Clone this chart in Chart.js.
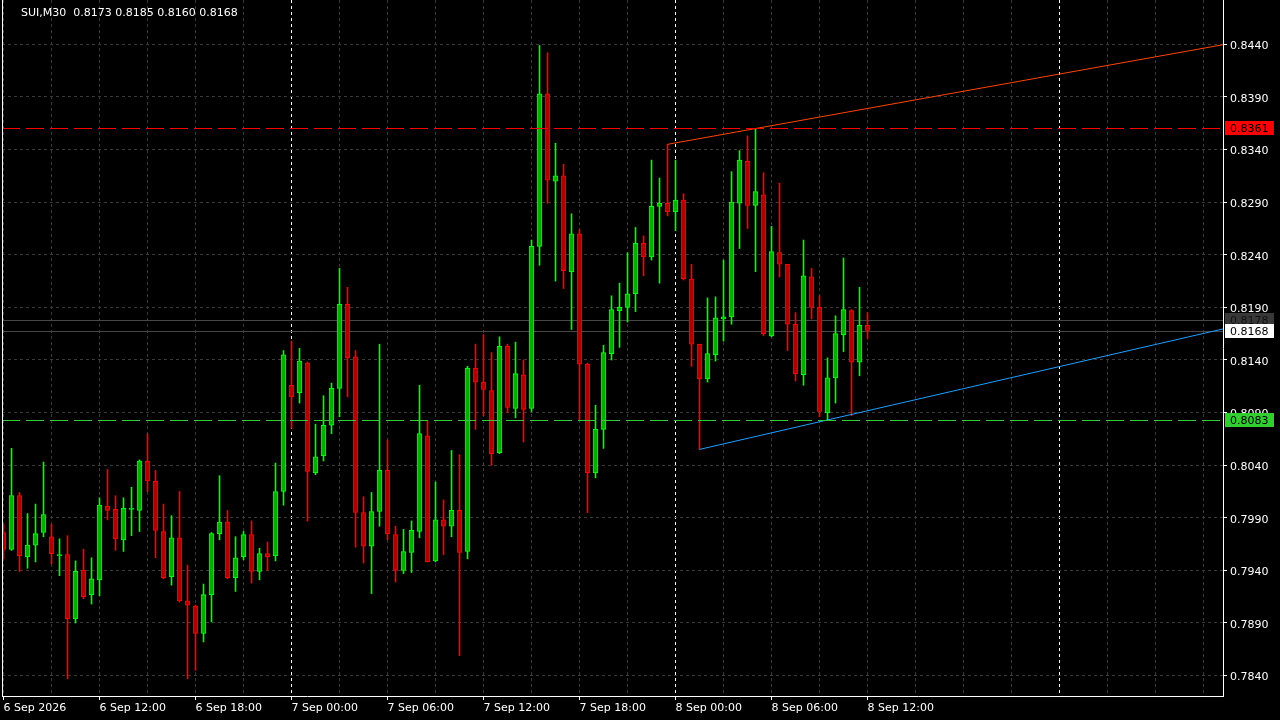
<!DOCTYPE html>
<html>
<head>
<meta charset="utf-8">
<title>SUI,M30</title>
<script src="https://cdn.jsdelivr.net/npm/chart.js@4.4.1/dist/chart.umd.min.js"></script>
<style>
  html, body { margin: 0; padding: 0; background: #000; overflow: hidden; }
  canvas { display: block; background: #000; }
</style>
</head>
<body>
<canvas id="grafico" width="1280" height="720"></canvas>
<script>
// SUI, 30 minute bars, 6 Sep 06:00 .. 8 Sep 12:00
const symbol = 'SUI,M30';

const open = [
  0.7976, 0.7960, 0.8011, 0.7953, 0.7964, 0.7976, 0.7972, 0.7954, 0.7955, 0.7894,
  0.7940, 0.7917, 0.7931, 0.8001, 0.7998, 0.7969, 0.7998, 0.7997, 0.8044, 0.8025,
  0.7977, 0.7934, 0.7971, 0.7911, 0.7906, 0.7880, 0.7917, 0.7975, 0.7986, 0.7933,
  0.7953, 0.7974, 0.7939, 0.7956, 0.7954, 0.8015, 0.8116, 0.8109, 0.8137, 0.8033,
  0.8049, 0.8078, 0.8113, 0.8193, 0.8143, 0.7995, 0.7963, 0.7996, 0.8035, 0.7974,
  0.7940, 0.7957, 0.7977, 0.8068, 0.7949, 0.7988, 0.7982, 0.7997, 0.7958, 0.8132,
  0.8119, 0.8111, 0.8052, 0.8153, 0.8094, 0.8126, 0.8094, 0.8248, 0.8393, 0.8310,
  0.8315, 0.8224, 0.8260, 0.8136, 0.8033, 0.8074, 0.8146, 0.8187, 0.8190, 0.8203,
  0.8251, 0.8238, 0.8286, 0.8289, 0.8281, 0.8292, 0.8217, 0.8155, 0.8122, 0.8145,
  0.8179, 0.8181, 0.8289, 0.8329, 0.8287, 0.8297, 0.8163, 0.8242, 0.8231, 0.8174,
  0.8126, 0.8219, 0.8190, 0.8090, 0.8123, 0.8164, 0.8187, 0.8138, 0.8173
];
const high = [
  0.7984, 0.8056, 0.8014, 0.7994, 0.8003, 0.8043, 0.7984, 0.7970, 0.7973, 0.7949,
  0.7960, 0.7952, 0.8009, 0.8036, 0.8011, 0.8009, 0.8019, 0.8045, 0.8070, 0.8035,
  0.8003, 0.7992, 0.8015, 0.7945, 0.7907, 0.7927, 0.7976, 0.8030, 0.7997, 0.7972,
  0.7977, 0.7987, 0.7961, 0.7967, 0.8042, 0.8149, 0.8158, 0.8151, 0.8138, 0.8079,
  0.8106, 0.8118, 0.8227, 0.8209, 0.8149, 0.8010, 0.8014, 0.8155, 0.8064, 0.7982,
  0.7979, 0.7987, 0.8116, 0.8082, 0.8024, 0.8007, 0.8054, 0.8050, 0.8134, 0.8155,
  0.8164, 0.8147, 0.8162, 0.8155, 0.8157, 0.8140, 0.8254, 0.8439, 0.8432, 0.8346,
  0.8326, 0.8279, 0.8264, 0.8137, 0.8097, 0.8154, 0.8201, 0.8213, 0.8242, 0.8266,
  0.8258, 0.8330, 0.8313, 0.8345, 0.8330, 0.8298, 0.8231, 0.8155, 0.8199, 0.8200,
  0.8235, 0.8319, 0.8339, 0.8353, 0.8360, 0.8318, 0.8267, 0.8308, 0.8231, 0.8185,
  0.8254, 0.8227, 0.8201, 0.8142, 0.8182, 0.8237, 0.8188, 0.8209, 0.8185
];
const low = [
  0.7951, 0.7959, 0.7939, 0.7942, 0.7948, 0.7972, 0.7946, 0.7935, 0.7837, 0.7890,
  0.7913, 0.7908, 0.7916, 0.7988, 0.7959, 0.7958, 0.7973, 0.7977, 0.8015, 0.7952,
  0.7932, 0.7926, 0.7910, 0.7837, 0.7845, 0.7872, 0.7891, 0.7969, 0.7932, 0.7920,
  0.7950, 0.7928, 0.7931, 0.7940, 0.7949, 0.8002, 0.8075, 0.8099, 0.7987, 0.8031,
  0.8044, 0.8070, 0.8086, 0.8105, 0.7962, 0.7947, 0.7918, 0.7982, 0.7969, 0.7929,
  0.7937, 0.7938, 0.7971, 0.7948, 0.7948, 0.7955, 0.7972, 0.7859, 0.7951, 0.8074,
  0.8087, 0.8040, 0.8051, 0.8090, 0.8085, 0.8062, 0.8091, 0.8230, 0.8289, 0.8215,
  0.8208, 0.8169, 0.8083, 0.7995, 0.8028, 0.8056, 0.8140, 0.8152, 0.8176, 0.8186,
  0.8220, 0.8235, 0.8213, 0.8277, 0.8263, 0.8216, 0.8134, 0.8055, 0.8119, 0.8139,
  0.8158, 0.8174, 0.8246, 0.8265, 0.8224, 0.8163, 0.8162, 0.8219, 0.8149, 0.8120,
  0.8116, 0.8179, 0.8086, 0.8083, 0.8099, 0.8148, 0.8087, 0.8125, 0.8160
];
const close = [
  0.7960, 0.8011, 0.7954, 0.7964, 0.7975, 0.7993, 0.7956, 0.7955, 0.7894, 0.7939,
  0.7915, 0.7932, 0.8002, 0.7997, 0.7970, 0.7999, 0.7999, 0.8044, 0.8025, 0.7978,
  0.7933, 0.7971, 0.7911, 0.7907, 0.7880, 0.7917, 0.7975, 0.7986, 0.7933, 0.7952,
  0.7974, 0.7939, 0.7956, 0.7953, 0.8015, 0.8145, 0.8105, 0.8139, 0.8034, 0.8048,
  0.8078, 0.8113, 0.8193, 0.8142, 0.7995, 0.7963, 0.7996, 0.8035, 0.7975, 0.7940,
  0.7958, 0.7978, 0.8070, 0.7948, 0.7988, 0.7982, 0.7997, 0.7957, 0.8132, 0.8119,
  0.8112, 0.8051, 0.8153, 0.8095, 0.8127, 0.8093, 0.8248, 0.8393, 0.8311, 0.8315,
  0.8225, 0.8260, 0.8136, 0.8033, 0.8074, 0.8147, 0.8188, 0.8190, 0.8203, 0.8251,
  0.8238, 0.8286, 0.8289, 0.8281, 0.8292, 0.8217, 0.8155, 0.8122, 0.8146, 0.8180,
  0.8181, 0.8290, 0.8330, 0.8287, 0.8300, 0.8165, 0.8243, 0.8231, 0.8174, 0.8127,
  0.8220, 0.8190, 0.8091, 0.8123, 0.8165, 0.8188, 0.8138, 0.8173, 0.8168
];

// time axis labels (bar index -> text)
const labelIdx = [0, 12, 24, 36, 48, 60, 72, 84, 96, 108];
const timeLabels = ['6 Sep 2026', '6 Sep 12:00', '6 Sep 18:00', '7 Sep 00:00', '7 Sep 06:00',
                    '7 Sep 12:00', '7 Sep 18:00', '8 Sep 00:00', '8 Sep 06:00', '8 Sep 12:00'];
const daySeparators = [36, 84, 132];
const yTicks = [0.8440, 0.8390, 0.8340, 0.8290, 0.8240, 0.8190, 0.8140, 0.8090, 0.8040, 0.7990, 0.7940, 0.7890, 0.7840];

// horizontal levels, bid/ask, trend lines (bar index, price)
const levelHigh = 0.8361;
const levelLow = 0.8083;
const bidPrice = 0.8168;
const askPrice = 0.8178;
const trendTop = [[83, 0.8345], [94, 0.8360]];
const trendBottom = [[87, 0.8055], [103, 0.8083]];

document.addEventListener('DOMContentLoaded', () => {
    const xMin = -0.1875, xMax = 152.4375;
    const yMin = 0.78206, yMax = 0.84822;
    const idx = open.map((_, i) => i);
    const up = idx.map(i => close[i] >= open[i]);
    const last = open.length - 1;
    const titulo = symbol + '  ' + [open[last], high[last], low[last], close[last]].map(v => v.toFixed(4)).join(' ');

    function raio(p, q) {
        const k = (q[1] - p[1]) / (q[0] - p[0]);
        return [{x: p[0], y: p[1]}, {x: xMax, y: p[1] + k * (xMax - p[0])}];
    }
    const linha = (data, color, order) => ({
        type: 'line', data, borderColor: color, borderWidth: 1,
        pointRadius: 0, fill: false, tension: 0, order
    });

    // crisp horizontal line at a price
    function nivel(chart, v, color, dash) {
        const {ctx, chartArea: a, scales: {y}} = chart;
        const py = Math.round(y.getPixelForValue(v)) + 0.5;
        ctx.save();
        ctx.strokeStyle = color;
        ctx.lineWidth = 1;
        ctx.setLineDash(dash);
        ctx.beginPath();
        ctx.moveTo(a.left, py);
        ctx.lineTo(a.right, py);
        ctx.stroke();
        ctx.restore();
    }

    const extras = {
        id: 'extras',
        beforeDatasetsDraw(chart) {
            nivel(chart, askPrice, '#474747', []);
            nivel(chart, bidPrice, '#474747', []);
        },
        afterDatasetsDraw(chart) {
            nivel(chart, levelHigh, '#ff0000', [18, 6]);
            nivel(chart, levelLow, '#32cd32', [18, 6]);
        },
        afterDraw(chart) {
            const {ctx, chartArea: a, scales: {y}} = chart;
            ctx.save();
            ctx.strokeStyle = '#ffffff';
            ctx.lineWidth = 1;
            ctx.beginPath();
            ctx.moveTo(Math.floor(a.left) + 0.5, a.top);
            ctx.lineTo(Math.floor(a.left) + 0.5, a.bottom);
            ctx.stroke();

            ctx.font = '11px "DejaVu Sans"';
            ctx.textAlign = 'left';
            ctx.textBaseline = 'middle';
            ctx.fillStyle = '#ffffff';
            ctx.fillText(titulo, a.left + 19, 13);

            const tags = [
                {v: levelHigh, bg: '#ff0000', fg: '#000000'},
                {v: levelLow, bg: '#32cd32', fg: '#000000'},
                {v: askPrice, bg: '#383838', fg: '#111111'},
                {v: bidPrice, bg: '#ffffff', fg: '#000000'}
            ];
            tags.forEach(t => {
                const py = Math.round(y.getPixelForValue(t.v));
                ctx.fillStyle = t.bg;
                ctx.fillRect(a.right + 2, py - 7, 49, 14);
                ctx.fillStyle = t.fg;
                ctx.fillText(t.v.toFixed(4), a.right + 7, py + 1);
            });
            ctx.restore();
        }
    };

    Chart.defaults.font.family = '"DejaVu Sans"';
    Chart.defaults.font.size = 11;
    Chart.defaults.color = '#ffffff';

    new Chart(document.getElementById('grafico').getContext('2d'), {
        type: 'bar',
        data: {
            datasets: [
                linha(raio(trendTop[0], trendTop[1]), '#ff4500', 1),
                linha(raio(trendBottom[0], trendBottom[1]), '#1e9fff', 1),
                {
                    type: 'bar',
                    data: idx.map(i => ({x: i, y: [open[i], close[i]]})),
                    backgroundColor: up.map(u => u ? '#00b000' : '#b00000'),
                    borderColor: up.map(u => u ? '#00ff00' : '#ff0000'),
                    borderWidth: 1,
                    borderSkipped: false,
                    barThickness: 5,
                    maxBarThickness: 5,
                    minBarLength: 1,
                    grouped: false,
                    order: 2
                },
                {
                    type: 'bar',
                    data: idx.map(i => ({x: i, y: [low[i], high[i]]})),
                    backgroundColor: up.map(u => u ? '#00ff00' : '#ff0000'),
                    borderWidth: 0,
                    barThickness: 1,
                    maxBarThickness: 1,
                    grouped: false,
                    order: 3
                }
            ]
        },
        options: {
            responsive: false,
            animation: false,
            layout: { padding: { left: 2, right: 0, top: 0, bottom: 0 } },
            plugins: { legend: { display: false }, tooltip: { enabled: false } },
            scales: {
                x: {
                    type: 'linear',
                    position: 'bottom',
                    min: xMin,
                    max: xMax,
                    offset: false,
                    afterBuildTicks: s => {
                        const t = [];
                        for (let v = 0; v <= xMax; v += 6) t.push({value: v});
                        s.ticks = t;
                    },
                    afterFit: s => { s.height = 24; s.paddingLeft = 0; s.paddingRight = 0; },
                    grid: {
                        offset: false,
                        color: c => (c.tick && daySeparators.includes(c.tick.value)) ? '#ffffff' : '#3a3a3a',
                        tickColor: c => (c.tick && labelIdx.includes(c.tick.value)) ? '#ffffff' : 'rgba(0,0,0,0)',
                        tickLength: 4
                    },
                    border: { color: '#ffffff', width: 1, dash: [3, 3] },
                    ticks: {
                        autoSkip: false,
                        maxRotation: 0,
                        minRotation: 0,
                        align: 'start',
                        padding: 2,
                        color: '#ffffff',
                        callback: v => {
                            const k = labelIdx.indexOf(v);
                            return k >= 0 ? timeLabels[k] : '';
                        }
                    }
                },
                y: {
                    type: 'linear',
                    position: 'right',
                    min: yMin,
                    max: yMax,
                    afterBuildTicks: s => { s.ticks = yTicks.map(v => ({value: v})); },
                    afterFit: s => { s.width = 57; s.paddingTop = 0; s.paddingBottom = 0; },
                    grid: { color: '#3a3a3a', tickColor: '#ffffff', tickLength: 4 },
                    border: { color: '#ffffff', width: 1, dash: [3, 3] },
                    ticks: {
                        padding: 3,
                        labelOffset: 2,
                        color: '#ffffff',
                        callback: v => v.toFixed(4)
                    }
                }
            }
        },
        plugins: [extras]
    });
});
</script>
</body>
</html>
